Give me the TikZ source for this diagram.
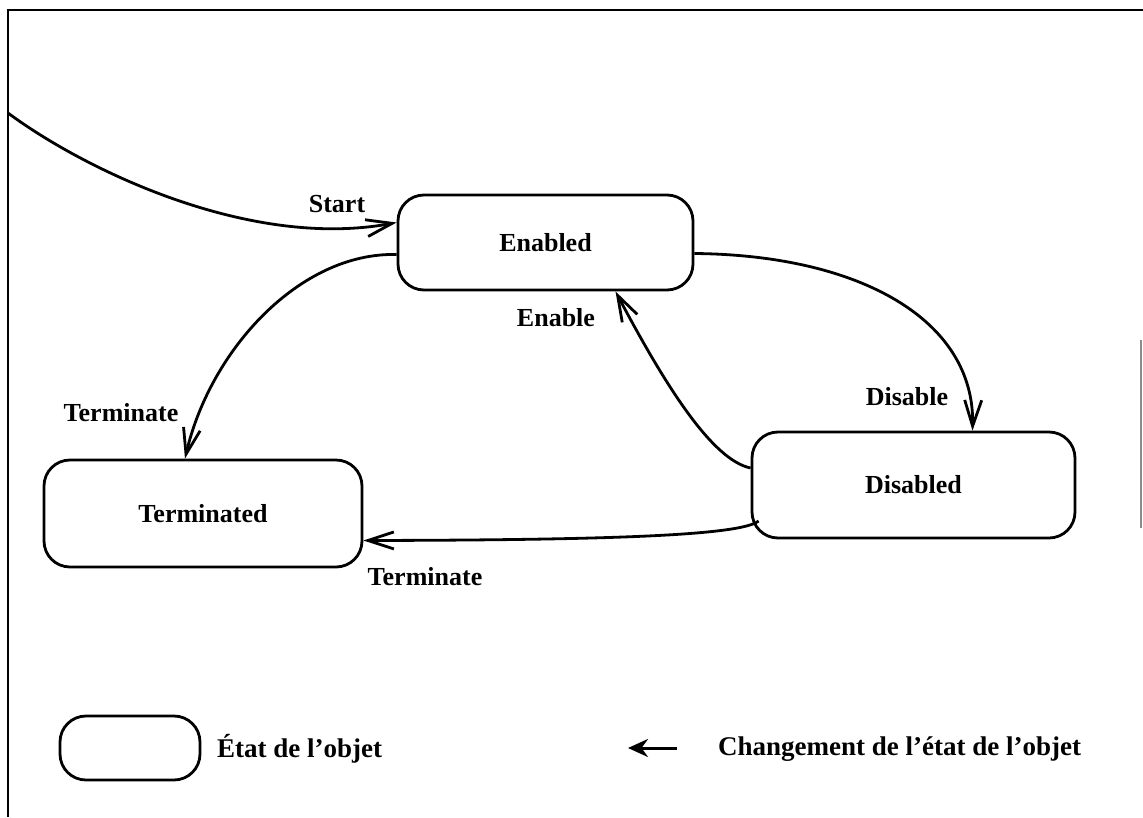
\documentclass[tikz,border=0pt]{standalone}
\usepackage{fontspec}
\setmainfont{Liberation Serif}
\usetikzlibrary{arrows.meta,calc}
\begin{document}
\begin{tikzpicture}[x=1pt,y=-1pt,
  state/.style={draw,line width=2.8pt,rounded corners=26pt,inner sep=0pt,
    font=\fontsize{26}{29}\selectfont\bfseries},
  trans/.style={line width=2.8pt,-{Straight Barb[length=26pt,width=17pt,line width=2.8pt]}},
  lbl/.style={font=\fontsize{26}{29}\selectfont\bfseries,inner sep=0pt},
  legendlbl/.style={font=\fontsize{27}{30}\selectfont\bfseries,inner sep=0pt,anchor=west},
  frameline/.style={line width=2.8pt}]
\useasboundingbox (0,0) rectangle (1143,817);
% outer frame
\coordinate (ftl) at (8,10);
\coordinate (ftr) at (1143,10);
\coordinate (fbl) at (8,817);
\draw[frameline] (ftr) -- (ftl) -- (fbl);
\draw[line width=1.2pt,black!45] (1141,340) -- (1141,528);
% states
\node[state,minimum width=295pt,minimum height=95pt] (en) at (545.5,242.5) {Enabled};
\node[state,minimum width=323pt,minimum height=106pt] (dis) at (913.5,485) {Disabled};
\node[state,minimum width=318pt,minimum height=107pt] (ter) at (203,513.5) {Terminated};
% transitions
\coordinate (s) at (8,113);
\draw[trans] (s) .. controls (85,170) and (250,250) .. ($(en.west)+(0,-20)$);
\draw[trans] ($(en.west)+(0,12)$) .. controls (300,252) and (210,350) .. ($(ter.north)+(-18,0)$);
\draw[trans] ($(en.east)+(0,11)$) .. controls (860,255) and (975,320) .. ($(dis.north)+(59,0)$);
\draw[trans] ($(dis.west)+(0,-17)$) .. controls (712,460) and (665,385) .. ($(en.south)+(70,0)$);
\draw[trans] ($(dis.west)+(8,36)$) .. controls (740,536) and (600,540) .. ($(ter.east)+(0,27)$);
% transition labels
\node[lbl] (lstart) at (337,204) {Start};
\node[lbl] (lenable) at (556,318) {Enable};
\node[lbl] (ldisable) at (907,397) {Disable};
\node[lbl] (lterm1) at (121,413) {Terminate};
\node[lbl] (lterm2) at (425,577) {Terminate};
% legend
\node[state,minimum width=140pt,minimum height=64pt] (leg) at (130,748) {};
\node[legendlbl] (legtxt) at (217,749) {État de l’objet};
\coordinate (la) at (677,748);
\coordinate (lb) at (628,748);
\draw[line width=3pt,-{Stealth[length=20pt,width=18pt]}] (la) -- (lb);
\node[legendlbl] (legarr) at (718,749) {Changement de l’état de l’objet};
\end{tikzpicture}
\end{document}
